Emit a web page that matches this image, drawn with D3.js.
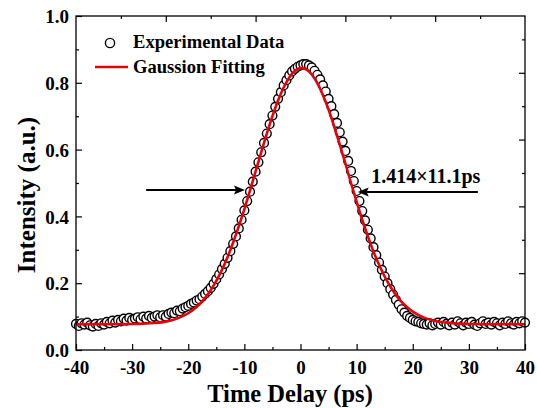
<!DOCTYPE html>
<html><head><meta charset="utf-8">
<script src="https://cdn.jsdelivr.net/npm/d3@7"></script>
<style>
html,body{margin:0;padding:0;background:#fff;}
svg text{font-family:"Liberation Serif","Times New Roman",serif;font-weight:bold;fill:#000;}
</style></head>
<body>
<script>
// ---- data ----
const expTime = [-40,-39.5,-39,-38.5,-38,-37.5,-37,-36.5,-36,-35.5,-35,-34.5,-34,-33.5,-33,-32.5,-32,-31.5,-31,-30.5,-30,-29.5,-29,-28.5,-28,-27.5,-27,-26.5,-26,-25.5,-25,-24.5,-24,-23.5,-23,-22.5,-22,-21.5,-21,-20.5,-20,-19.5,-19,-18.5,-18,-17.5,-17,-16.5,-16,-15.5,-15,-14.5,-14,-13.5,-13,-12.5,-12,-11.5,-11,-10.5,-10,-9.5,-9,-8.5,-8,-7.5,-7,-6.5,-6,-5.5,-5,-4.5,-4,-3.5,-3,-2.5,-2,-1.5,-1,-0.5,0,0.5,1,1.5,2,2.5,3,3.5,4,4.5,5,5.5,6,6.5,7,7.5,8,8.5,9,9.5,10,10.5,11,11.5,12,12.5,13,13.5,14,14.5,15,15.5,16,16.5,17,17.5,18,18.5,19,19.5,20,20.5,21,21.5,22,22.5,23,23.5,24,24.5,25,25.5,26,26.5,27,27.5,28,28.5,29,29.5,30,30.5,31,31.5,32,32.5,33,33.5,34,34.5,35,35.5,36,36.5,37,37.5,38,38.5,39,39.5,40];
const expIntensity = [0.078,0.072,0.080,0.076,0.082,0.074,0.070,0.078,0.072,0.080,0.076,0.084,0.080,0.088,0.082,0.090,0.086,0.094,0.088,0.096,0.090,0.094,0.098,0.092,0.100,0.094,0.102,0.096,0.100,0.104,0.098,0.104,0.100,0.108,0.112,0.110,0.118,0.116,0.124,0.128,0.132,0.138,0.142,0.148,0.152,0.160,0.168,0.176,0.186,0.198,0.212,0.226,0.242,0.258,0.276,0.296,0.318,0.340,0.364,0.390,0.418,0.446,0.474,0.504,0.534,0.562,0.592,0.620,0.648,0.676,0.702,0.728,0.752,0.772,0.792,0.808,0.822,0.834,0.842,0.848,0.852,0.856,0.856,0.852,0.846,0.836,0.824,0.810,0.792,0.774,0.752,0.730,0.706,0.680,0.652,0.624,0.596,0.566,0.536,0.506,0.476,0.446,0.416,0.388,0.360,0.334,0.308,0.284,0.262,0.240,0.220,0.200,0.182,0.166,0.150,0.136,0.122,0.112,0.102,0.096,0.090,0.086,0.084,0.080,0.078,0.076,0.080,0.074,0.078,0.082,0.076,0.084,0.078,0.074,0.082,0.076,0.086,0.080,0.074,0.082,0.078,0.084,0.076,0.072,0.080,0.086,0.078,0.082,0.076,0.084,0.080,0.074,0.082,0.078,0.086,0.080,0.076,0.084,0.080,0.086,0.082];

const fitTime = [-40,-35,-30,-28,-26,-24,-22,-20,-19,-18,-17,-16,-15,-14,-13,-12,-11,-10,-9,-8,-7,-6,-5,-4,-3,-2,-1,0,1,2,3,4,5,6,7,8,9,10,11,12,13,14,15,16,17,18,19,20,22,24,26,28,30,35,40];
const fitIntensity = [0.077,0.077,0.078,0.079,0.081,0.085,0.094,0.110,0.122,0.137,0.156,0.179,0.207,0.240,0.278,0.322,0.370,0.422,0.477,0.535,0.592,0.648,0.700,0.747,0.786,0.816,0.836,0.844,0.840,0.825,0.799,0.763,0.720,0.669,0.615,0.558,0.500,0.444,0.390,0.340,0.295,0.255,0.220,0.190,0.165,0.144,0.128,0.115,0.097,0.087,0.082,0.079,0.078,0.077,0.077];

const xTicks = [-40,-30,-20,-10,0,10,20,30,40];
const yTicks = [0.0,0.2,0.4,0.6,0.8,1.0];
const legendLabels = ["Experimental Data","Gaussion Fitting"];
const xTitle = "Time Delay (ps)";
const yTitle = "Intensity (a.u.)";
// arrows: [tailX, tipX, y]
const arrowLeft = [-27.5, -9.9, 0.479];
const arrowRight = [31.6, 10.2, 0.473];
const annotation = "1.414×11.1ps";
const annotationPos = [12.6, 0.50];

// ---- layout ----
const W = 537, H = 408;
const m = {left:76, right:12, top:16, bottom:58};
const iw = W - m.left - m.right, ih = H - m.top - m.bottom;

const svg = d3.select("body").append("svg").attr("width", W).attr("height", H);
const g = svg.append("g").attr("transform", `translate(${m.left},${m.top})`);

const x = d3.scaleLinear().domain([-40, 40]).range([0, iw]);
const y = d3.scaleLinear().domain([0, 1]).range([ih, 0]);
const xTop = d3.scaleLinear().domain([0, 10]).range([0, iw]);
const yRight = d3.scaleLinear().domain([-0.03, 0.97]).range([ih, 0]);

function styleAxis(sel){
  sel.select(".domain").remove();
  sel.selectAll("line").attr("stroke","#000").attr("stroke-width",1.2);
}
const hyphenInt = d => String(d);   // plain hyphen-minus like the reference
// bottom
const xMinor = d3.range(-35, 40, 10);
g.append("g").attr("transform",`translate(0,${ih})`)
  .call(d3.axisBottom(x).tickValues(xMinor).tickSize(-3).tickFormat(""))
  .call(styleAxis);
const bx = g.append("g").attr("transform",`translate(0,${ih})`)
  .call(d3.axisBottom(x).tickValues(xTicks).tickSize(-6).tickPadding(0).tickFormat(hyphenInt))
  .call(styleAxis);
bx.selectAll("text").attr("y", 24).attr("dy", null).attr("font-size", 19);
// left
const yMinor = [0.1,0.3,0.5,0.7,0.9];
g.append("g").call(d3.axisLeft(y).tickValues(yMinor).tickSize(-3).tickFormat("")).call(styleAxis);
const ly = g.append("g").call(d3.axisLeft(y).tickValues(yTicks).tickSize(-6).tickFormat(d3.format(".1f"))).call(styleAxis);
ly.selectAll("text").attr("x", -7).attr("font-size", 19).attr("dy","0.35em");
// top
g.append("g").call(d3.axisTop(xTop).tickValues([1,3,5,7,9]).tickSize(-3).tickFormat("")).call(styleAxis);
g.append("g").call(d3.axisTop(xTop).tickValues([2,4,6,8]).tickSize(-6).tickFormat("")).call(styleAxis);
// right
g.append("g").attr("transform",`translate(${iw},0)`).call(d3.axisRight(yRight).tickValues([0.3,0.5,0.7,0.9]).tickSize(-3).tickFormat("")).call(styleAxis);
g.append("g").attr("transform",`translate(${iw},0)`).call(d3.axisRight(yRight).tickValues([0.2,0.4,0.6,0.8]).tickSize(-6).tickFormat("")).call(styleAxis);

// data circles
const pts = expTime.map((t,i)=>({t, v:expIntensity[i]}));
g.append("g").selectAll("circle").data(pts).join("circle")
  .attr("cx", d=>x(d.t)).attr("cy", d=>y(d.v)).attr("r", 4.4)
  .attr("fill","#fff").attr("stroke","#000").attr("stroke-width",1.4);

// fit line
const fitPts = fitTime.map((t,i)=>({t, v:fitIntensity[i]}));
g.append("path").datum(fitPts)
  .attr("fill","none").attr("stroke","#e8000b").attr("stroke-width",2.6)
  .attr("d", d3.line().x(d=>x(d.t)).y(d=>y(d.v)).curve(d3.curveMonotoneX));

// frame
g.append("rect").attr("width", iw).attr("height", ih).attr("fill","none").attr("stroke","#000").attr("stroke-width",1.3);

// arrows
function arrow(a){
  const x0 = x(a[0]), x1 = x(a[1]), yy = y(a[2]);
  const dir = Math.sign(x1 - x0);
  const headLen = 11, half = 4.5;
  g.append("line").attr("x1", x0).attr("x2", x1 - dir*headLen*0.8).attr("y1", yy).attr("y2", yy)
    .attr("stroke","#000").attr("stroke-width",2.2);
  g.append("path").attr("d", `M${x1},${yy}L${x1-dir*headLen},${yy-half}L${x1-dir*headLen*0.8},${yy}L${x1-dir*headLen},${yy+half}Z`)
    .attr("fill","#000");
}
arrow(arrowLeft);
arrow(arrowRight);
g.append("text").attr("x", x(annotationPos[0])).attr("y", y(annotationPos[1]))
  .attr("font-size", 20).text(annotation);

// legend
const lg = g.append("g");
lg.append("circle").attr("cx", x(-40)+34).attr("cy", 27).attr("r", 4.6)
  .attr("fill","#fff").attr("stroke","#000").attr("stroke-width",1.4);
lg.append("line").attr("x1", x(-40)+19).attr("x2", x(-40)+52).attr("y1", 51).attr("y2", 51)
  .attr("stroke","#e8000b").attr("stroke-width",2.6);
lg.selectAll("text.leg").data(legendLabels).join("text").attr("class","leg")
  .attr("x", x(-40)+57).attr("y",(d,i)=>32 + i*25).attr("font-size",18.6).text(d=>d);

// titles
svg.append("text").attr("x", 290).attr("y", 402).attr("text-anchor","middle")
  .attr("font-size", 24.5).text(xTitle);
svg.append("text").attr("transform","translate(35,195) rotate(-90)").attr("text-anchor","middle")
  .attr("font-size", 25).text(yTitle);
</script>
</body></html>
